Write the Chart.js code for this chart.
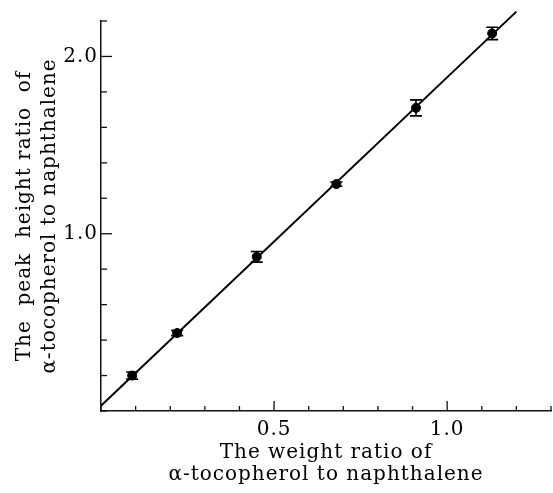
<!DOCTYPE html>
<html><head><meta charset="utf-8">
<script src="https://cdn.jsdelivr.net/npm/chart.js@4.4.1/dist/chart.umd.min.js"></script>
<style>html,body{margin:0;padding:0;background:#fff;} canvas{display:block}</style>
</head><body>
<canvas id="c" width="553" height="493"></canvas>
<script>
// ---- data ----
const WEIGHT_RATIO = [0.09, 0.22, 0.45, 0.68, 0.91, 1.13];
const PEAK_RATIO   = [0.20, 0.44, 0.87, 1.28, 1.71, 2.13];
const PEAK_ERROR   = [0.020, 0.015, 0.030, 0.012, 0.045, 0.035];
const FIT_X = [0, 1.2];
const FIT_Y = [0.03, 2.253];
const X_LABELED_TICKS = [0.5, 1.0];
const Y_LABELED_TICKS = [1.0, 2.0];
const X_TITLE = ['The weight ratio of', 'α-tocopherol to naphthalene'];
const Y_TITLE = ['The  peak  height ratio  of', 'α-tocopherol to naphthalene'];

const FONT = '"DejaVu Serif", "Liberation Serif", serif';
const near = (v, arr) => arr.some(a => Math.abs(a - v) < 1e-6);

const points = WEIGHT_RATIO.map((x, i) => ({x, y: PEAK_RATIO[i], e: PEAK_ERROR[i]}));
const fitLine = FIT_X.map((x, i) => ({x, y: FIT_Y[i]}));

const spacing = {
  id: 'spacing',
  beforeDraw(chart) { chart.ctx.letterSpacing = '1px'; },
  afterDraw(chart) { chart.ctx.letterSpacing = '0px'; }
};

const inwardTicks = {
  id: 'inwardTicks',
  afterDatasetsDraw(chart) {
    const ctx = chart.ctx, xs = chart.scales.x, ys = chart.scales.y;
    const ca = chart.chartArea;
    ctx.save();
    ctx.strokeStyle = '#111';
    ctx.lineWidth = 1.3;
    xs.ticks.forEach(t => {
      const p = xs.getPixelForValue(t.value);
      const len = near(t.value, X_LABELED_TICKS) ? 10 : 5;
      ctx.beginPath(); ctx.moveTo(p, ca.bottom); ctx.lineTo(p, ca.bottom - len); ctx.stroke();
    });
    ys.ticks.forEach(t => {
      const p = ys.getPixelForValue(t.value);
      const len = near(t.value, Y_LABELED_TICKS) ? 11 : 6;
      ctx.beginPath(); ctx.moveTo(ca.left, p); ctx.lineTo(ca.left + len, p); ctx.stroke();
    });
    ctx.restore();
  }
};

const errorBars = {
  id: 'errorBars',
  afterDatasetsDraw(chart) {
    const ctx = chart.ctx, xs = chart.scales.x, ys = chart.scales.y;
    ctx.save();
    ctx.strokeStyle = '#000';
    ctx.lineWidth = 1.6;
    points.forEach(pt => {
      const px = xs.getPixelForValue(pt.x);
      const top = ys.getPixelForValue(pt.y + pt.e);
      const bot = ys.getPixelForValue(pt.y - pt.e);
      ctx.beginPath();
      ctx.moveTo(px, top); ctx.lineTo(px, bot);
      ctx.moveTo(px - 6, top); ctx.lineTo(px + 6, top);
      ctx.moveTo(px - 6, bot); ctx.lineTo(px + 6, bot);
      ctx.stroke();
    });
    ctx.restore();
  }
};

new Chart(document.getElementById('c'), {
  type: 'scatter',
  data: {
    datasets: [
      {
        type: 'line',
        data: fitLine,
        borderColor: '#000',
        borderWidth: 2,
        pointRadius: 0,
        fill: false,
        clip: false,
        order: 2
      },
      {
        type: 'scatter',
        data: points,
        backgroundColor: '#000',
        borderColor: '#000',
        pointRadius: 4.5,
        pointStyle: 'circle',
        order: 1
      }
    ]
  },
  options: {
    responsive: false,
    animation: false,
    devicePixelRatio: 1,
    layout: { autoPadding: false, padding: { left: 0, right: 2, top: 21, bottom: 0 } },
    plugins: { legend: { display: false }, tooltip: { enabled: false } },
    scales: {
      x: {
        type: 'linear', min: 0, max: 1.3,
        afterFit(s) { s.height = 82; s.paddingRight = 0; s.paddingLeft = 0; },
        border: { display: true, color: '#111', width: 1.5 },
        grid: { display: false, drawTicks: false },
        ticks: {
          stepSize: 0.1, autoSkip: false, maxRotation: 0, padding: 7,
          color: '#000', font: { family: FONT, size: 20 },
          callback: v => near(v, X_LABELED_TICKS) ? v.toFixed(1) : ''
        },
        title: {
          display: true, text: X_TITLE, color: '#000',
          font: { family: FONT, size: 20, lineHeight: 1.1 },
          padding: { top: 0, bottom: 7 }
        }
      },
      y: {
        type: 'linear', min: 0, max: 2.2,
        afterFit(s) { s.width = 101; s.paddingTop = 0; s.paddingBottom = 0; },
        border: { display: true, color: '#111', width: 1.5 },
        grid: { display: false, drawTicks: false },
        ticks: {
          stepSize: 0.2, autoSkip: false, padding: 3,
          color: '#000', font: { family: FONT, size: 20 },
          callback: v => near(v, Y_LABELED_TICKS) ? v.toFixed(1) : ''
        },
        title: {
          display: true, text: Y_TITLE, color: '#000',
          font: { family: FONT, size: 20, lineHeight: 1.25 },
          padding: { top: 12, bottom: 0 }
        }
      }
    }
  },
  plugins: [spacing, inwardTicks, errorBars]
});
</script>
</body></html>
